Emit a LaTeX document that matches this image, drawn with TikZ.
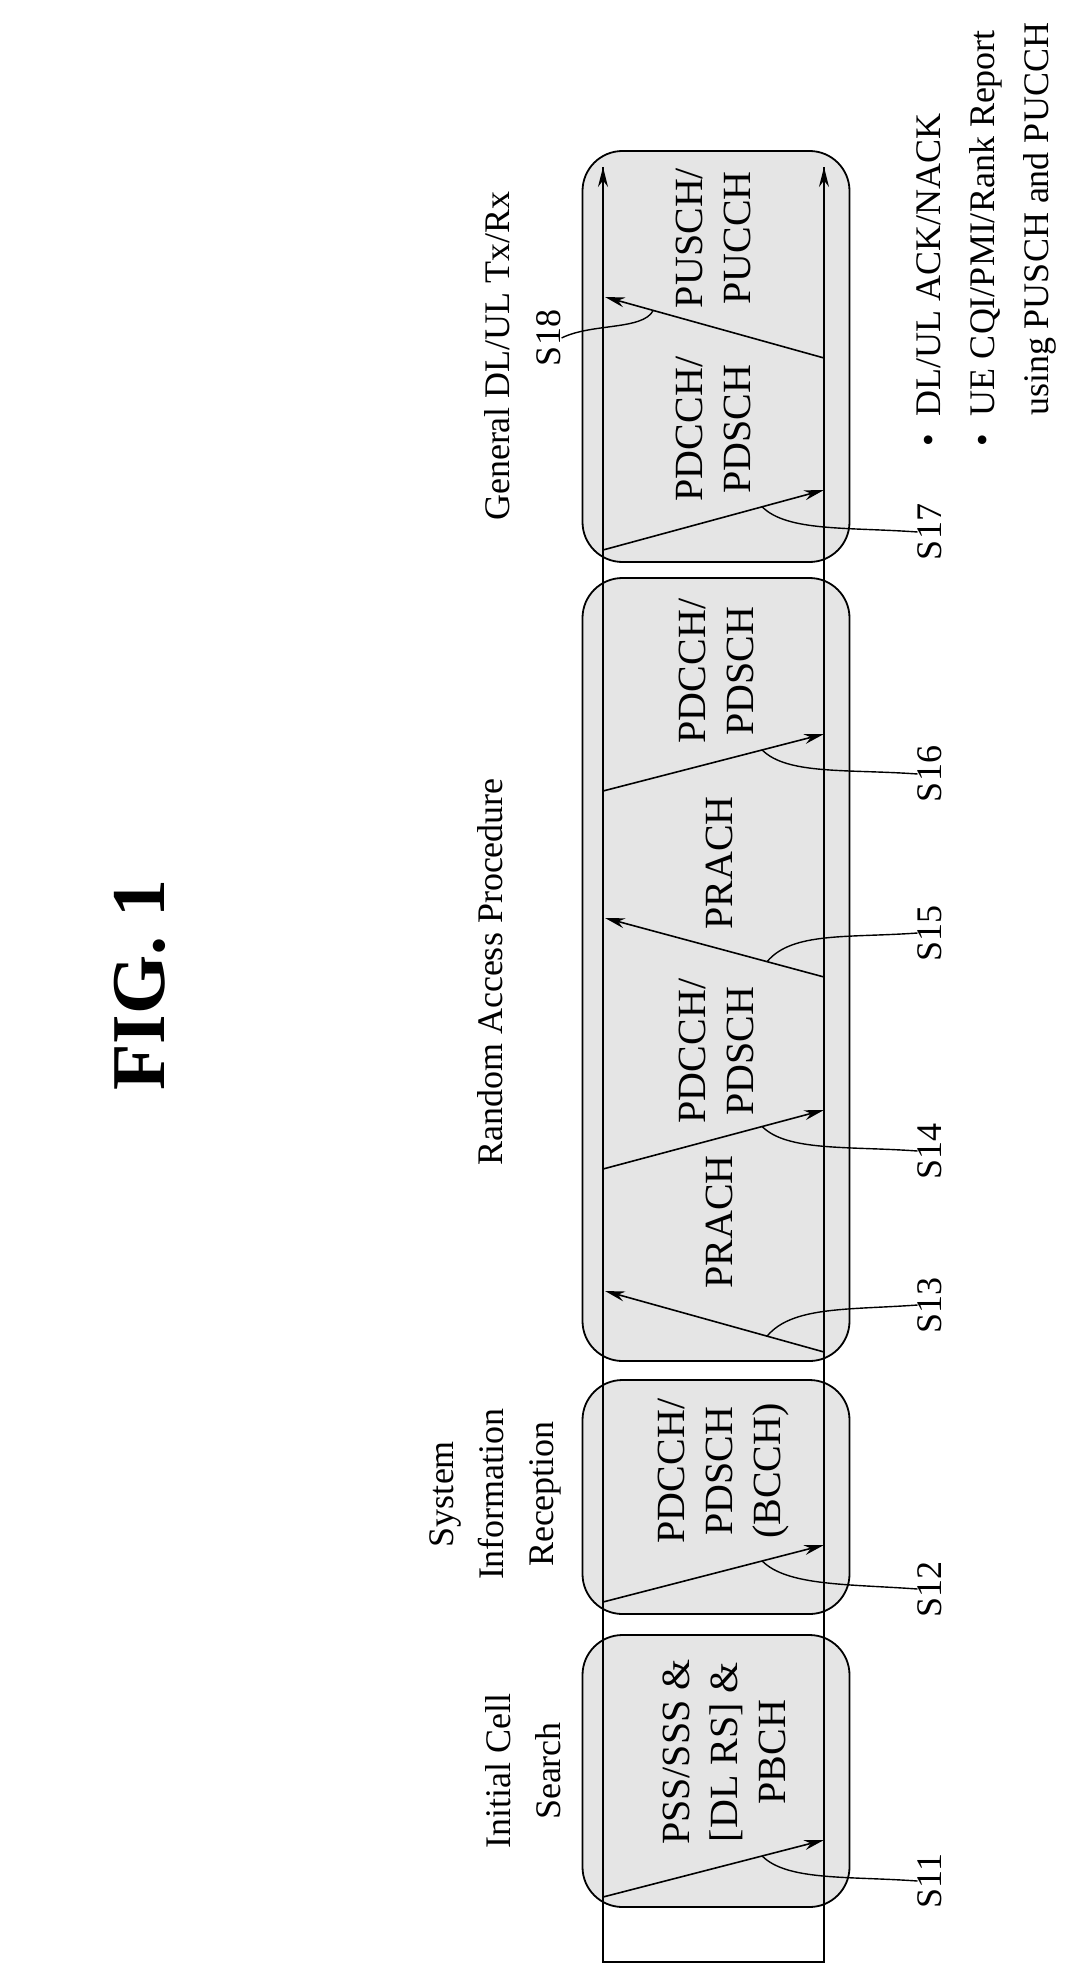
\documentclass[tikz,border=0pt]{standalone}
\usepackage{fontspec}
\setmainfont{Liberation Serif}
\usetikzlibrary{arrows.meta}
\begin{document}
\begin{tikzpicture}[x=0.5pt,y=-0.5pt,
  box/.style={draw,line width=0.9pt,rounded corners=20pt,fill=gray!20,minimum width=133.5pt},
  lbl/.style={rotate=90,font=\fontsize{18}{25}\selectfont,align=center,inner sep=0pt},
  inner/.style={rotate=90,font=\fontsize{20}{24}\selectfont,align=center,inner sep=0pt},
  arr/.style={line width=0.8pt,-{Stealth[length=10pt,width=5pt]}},
  lead/.style={line width=0.7pt}]
\useasboundingbox (0,0) rectangle (1081,1968);
% boxes
\node[box,minimum height=136pt] (b1) at (716,1771) {};
\node[box,minimum height=117pt] (b2) at (716,1497) {};
\node[box,minimum height=391.5pt] (b3) at (716,969.5) {};
\node[box,minimum height=205.5pt] (b4) at (716,356.5) {};
% time lines
\coordinate (ueb) at (603,1962);
\coordinate (enb) at (824,1962);
\coordinate (uet) at (603,167);
\coordinate (ent) at (824,167);
\draw[line width=0.9pt] (uet) -- (ueb) -- (enb) -- (ent);
\draw[arr] (603,200) -- (uet);
\draw[arr] (824,200) -- (ent);
% title
\node[rotate=90,font=\fontsize{38}{44}\selectfont\bfseries] (fig) at (140,985) {FIG. 1};
% headings
\node[lbl] (h1) at (523,1771) {Initial Cell\\Search};
\node[lbl] (h2) at (495,1494) {System\\Information\\Reception};
\node[lbl] (h3) at (490,972) {Random Access Procedure};
\node[lbl] (h4) at (497,356) {General DL/UL Tx/Rx};
\node[lbl] (S18) at (549,338) {S18};
% inner texts
\node[inner] (t1) at (724,1752) {PSS/SSS \&\\{[DL RS]} \&\\PBCH};
\node[inner] (t2) at (724,1471) {PDCCH/\\PDSCH\\(BCCH)};
\node[inner] (t3) at (719,1222) {PRACH};
\node[inner] (t4) at (716,1051) {PDCCH/\\PDSCH};
\node[inner] (t5) at (719,863) {PRACH};
\node[inner] (t6) at (716,671) {PDCCH/\\PDSCH};
\node[inner] (t7) at (713,429) {PDCCH/\\PDSCH};
\node[inner] (t8) at (713,238) {PUSCH/\\PUCCH};
% step labels
\node[lbl] (S11) at (930,1881) {S11};
\node[lbl] (S12) at (930,1589) {S12};
\node[lbl] (S13) at (930,1305) {S13};
\node[lbl] (S14) at (930,1151) {S14};
\node[lbl] (S15) at (930,933) {S15};
\node[lbl] (S16) at (930,774) {S16};
\node[lbl] (S17) at (930,532) {S17};
% bullets
\node[rotate=90,anchor=north west,align=left,inner sep=0pt,font=\fontsize{18}{27}\selectfont] (notes) at (916,447)
 {\textbullet\ \ DL/UL ACK/NACK\\\textbullet\ \ UE CQI/PMI/Rank Report\\\phantom{\textbullet\ \ }using PUSCH and PUCCH};
% message arrows
\coordinate (a11s) at (603,1897); \coordinate (a11e) at (824,1840);
\coordinate (a12s) at (603,1602); \coordinate (a12e) at (824,1545);
\coordinate (a13s) at (824,1352); \coordinate (a13e) at (605,1291);
\coordinate (a14s) at (603,1169); \coordinate (a14e) at (824,1110);
\coordinate (a15s) at (824,977);  \coordinate (a15e) at (605,918);
\coordinate (a16s) at (603,791);  \coordinate (a16e) at (824,734);
\coordinate (a17s) at (603,550);  \coordinate (a17e) at (824,490);
\coordinate (a18s) at (824,358);  \coordinate (a18e) at (605,297);
\foreach \i in {11,...,18}{
  \draw[arr] (a\i s) -- (a\i e);
}
\path (a11s) -- (a11e) coordinate[pos=0.72] (l11);
\path (a12s) -- (a12e) coordinate[pos=0.72] (l12);
\path (a13s) -- (a13e) coordinate[pos=0.26] (l13);
\path (a14s) -- (a14e) coordinate[pos=0.72] (l14);
\path (a15s) -- (a15e) coordinate[pos=0.26] (l15);
\path (a16s) -- (a16e) coordinate[pos=0.72] (l16);
\path (a17s) -- (a17e) coordinate[pos=0.72] (l17);
\path (a18s) -- (a18e) coordinate[pos=0.78] (l18);
\draw[lead] (l11) .. controls +(25,25) and +(-70,-5) .. (S11.north);
\draw[lead] (l12) .. controls +(25,25) and +(-70,-5) .. (S12.north);
\draw[lead] (l13) .. controls +(25,-30) and +(-70,5) .. (S13.north);
\draw[lead] (l14) .. controls +(25,25) and +(-70,-5) .. (S14.north);
\draw[lead] (l15) .. controls +(25,-30) and +(-70,5) .. (S15.north);
\draw[lead] (l16) .. controls +(25,25) and +(-70,-5) .. (S16.north);
\draw[lead] (l17) .. controls +(25,25) and +(-70,-5) .. (S17.north);
\draw[lead] (S18.south) .. controls +(30,-15) and +(-10,20) .. (l18);
\end{tikzpicture}
\end{document}
